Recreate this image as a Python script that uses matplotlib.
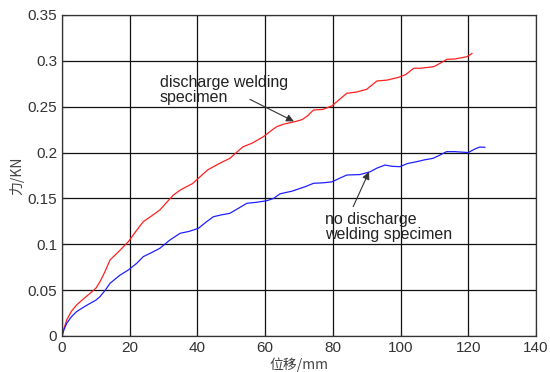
import matplotlib
matplotlib.use("Agg")
import matplotlib.pyplot as plt

# force-displacement readings (displacement in mm, force in kN)
red_x = [0, 0.5, 1.4, 2.8, 4.3, 6.2, 8.3, 10, 11.2, 12.8, 14.2, 17, 19.6, 22, 24, 26.5, 28.9,
         31, 32.9, 34.9, 36.8, 38.5, 40.8, 43, 45.7, 47.5, 49.6, 51.5, 53.5, 56, 59.5, 61.4,
         63.4, 65.5, 68.8, 71, 72.5, 74.3, 77, 79.7, 82, 84.1, 87, 90, 93, 96, 99.4,
         101.5, 103.9, 106, 109.8, 112, 113.7, 116, 119.6, 121.1]
red_y = [0, 0.007, 0.0175, 0.027, 0.0338, 0.040, 0.0465, 0.052, 0.059, 0.071, 0.0829, 0.093, 0.1028,
         0.115, 0.1246, 0.131, 0.1374, 0.146, 0.1537, 0.159, 0.1628, 0.166, 0.1737, 0.181, 0.1865,
         0.190, 0.1937, 0.200, 0.2064, 0.210, 0.2173, 0.2228, 0.2282, 0.231, 0.2337, 0.236, 0.240,
         0.2464, 0.247, 0.2508, 0.258, 0.2646, 0.266, 0.269, 0.278, 0.279, 0.282, 0.285, 0.2919,
         0.292, 0.2936, 0.298, 0.3017, 0.302, 0.3045, 0.308]

blue_x = [0, 0.5, 1.4, 2.8, 4.3, 6.2, 8.3, 10, 11.2, 12.8, 14.2, 17, 19.6, 22, 24, 26.5, 28.9,
          31.9, 34.9, 37.5, 40.3, 42.5, 44.7, 47, 49.6, 52, 54.6, 57.5, 60.5, 62.5, 64.4, 68,
          72, 74.3, 77, 79.7, 82, 84.1, 88, 91, 93, 95.4, 97.5, 99.8, 102, 104.7, 107, 109.6,
          111.5, 113.6, 116, 118, 120, 122, 123.4, 124.9]
blue_y = [0, 0.006, 0.0138, 0.021, 0.0265, 0.031, 0.0356, 0.039, 0.0428, 0.050, 0.0575, 0.066, 0.072,
          0.079, 0.0865, 0.091, 0.0956, 0.1047, 0.112, 0.114, 0.1174, 0.124, 0.130, 0.132, 0.1338,
          0.139, 0.1447, 0.1458, 0.1475, 0.150, 0.155, 0.158, 0.163, 0.1665, 0.167, 0.168, 0.172,
          0.1755, 0.176, 0.179, 0.183, 0.1864, 0.185, 0.1846, 0.188, 0.190, 0.192, 0.1937, 0.197,
          0.201, 0.201, 0.2005, 0.200, 0.204, 0.206, 0.2057]

x_ticks = [0, 20, 40, 60, 80, 100, 120, 140]
y_ticks = [0, 0.05, 0.1, 0.15, 0.2, 0.25, 0.3, 0.35]
y_tick_labels = ["0", "0.05", "0.1", "0.15", "0.2", "0.25", "0.3", "0.35"]

plt.rcParams["font.family"] = ["Liberation Sans", "Noto Sans CJK SC", "DejaVu Sans"]

fig = plt.figure(figsize=(5.5, 3.72), dpi=100)
ax = fig.add_axes([0.1127, 0.0968, 0.8618, 0.8629])

ax.plot(red_x, red_y, color="#ff2020", linewidth=0.9)
ax.plot(blue_x, blue_y, color="#2020ff", linewidth=0.9)

ax.set_xlim(0, 140)
ax.set_ylim(0, 0.35)
ax.set_xticks(x_ticks)
ax.set_yticks(y_ticks)
ax.set_yticklabels(y_tick_labels)
ax.tick_params(direction="in", labelsize=11, length=3, colors="#222222", labelcolor="#333333")
ax.grid(True, color="#111111", linewidth=0.9)
for s in ax.spines.values():
    s.set_color("#333333")
    s.set_linewidth(0.9)

ax.set_xlabel("位移/mm", family=["Noto Sans CJK SC", "DejaVu Sans"], fontsize=10, color="#444444", labelpad=2)
ax.set_ylabel("力/KN", family=["Noto Sans CJK SC", "DejaVu Sans"], fontsize=10, color="#444444", labelpad=2)

# annotation texts
ax.text(28.9, 0.2846, "discharge welding\nspecimen", fontsize=11.5, color="#222222",
        va="top", ha="left", linespacing=1.0)
ax.text(77.7, 0.1355, "no discharge\nwelding specimen", fontsize=11.5, color="#222222",
        va="top", ha="left", linespacing=1.0)

# arrows
arrow = dict(arrowstyle="-|>", color="#333333", lw=0.8, shrinkA=0, shrinkB=0, mutation_scale=11)
ax.annotate("", xy=(68.5, 0.234), xytext=(55.5, 0.258), arrowprops=arrow)
ax.annotate("", xy=(90.7, 0.179), xytext=(86.0, 0.141), arrowprops=arrow)

fig.savefig("out.png", dpi=100)
